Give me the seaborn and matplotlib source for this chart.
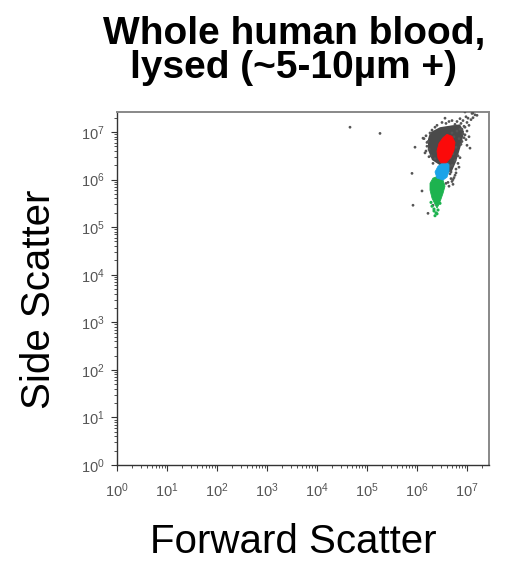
import numpy as np
import pandas as pd
import matplotlib
matplotlib.use("Agg")
import matplotlib.pyplot as plt
import seaborn as sns

sns.set_theme(style="white")
plt.rcParams["font.family"] = ["Liberation Sans", "DejaVu Sans"]
plt.rcParams["mathtext.fontset"] = "custom"
plt.rcParams["mathtext.rm"] = "Liberation Sans"
plt.rcParams["mathtext.it"] = "Liberation Sans"
plt.rcParams["text.color"] = "black"

# Gate outlines, in log10 units (forward scatter, side scatter)
gran_x = [6.60, 6.70, 6.76, 6.74, 6.68, 6.58, 6.48, 6.42, 6.40, 6.44, 6.52]
gran_y = [6.95, 6.91, 6.78, 6.62, 6.47, 6.35, 6.35, 6.45, 6.60, 6.76, 6.88]
mono_x = [6.42, 6.54, 6.64, 6.64, 6.60, 6.52, 6.40, 6.36]
mono_y = [6.28, 6.37, 6.32, 6.18, 6.05, 5.99, 6.03, 6.16]
lymph_x = [6.32, 6.42, 6.52, 6.56, 6.52, 6.48, 6.44, 6.40, 6.36, 6.30, 6.26, 6.26]
lymph_y = [6.03, 6.07, 5.99, 5.86, 5.71, 5.59, 5.48, 5.40, 5.48, 5.61, 5.78, 5.92]
core_x = [6.26, 6.46, 6.70, 6.86, 6.94, 6.90, 6.84, 6.78, 6.70, 6.60, 6.46, 6.30, 6.22, 6.22]
core_y = [6.99, 7.10, 7.14, 7.16, 7.01, 6.79, 6.58, 6.37, 6.18, 6.14, 6.30, 6.41, 6.62, 6.85]

# Ungated events, log10 units
evt_x = [4.66, 5.26, 5.96, 6.12, 5.90, 6.10, 5.92, 6.22, 6.56, 6.96, 7.10, 7.20, 7.02,
         7.06, 6.82, 6.76, 6.32, 7.00, 7.08, 6.98, 7.12, 6.92, 6.88, 6.96, 7.04, 6.86,
         6.80, 6.92, 6.74, 6.70, 6.84, 6.88, 6.78, 6.72, 6.66, 6.62, 6.20, 6.18, 6.16,
         6.22, 6.26, 6.30, 6.24, 6.36, 6.40, 6.50, 6.58, 6.64, 6.70, 6.76, 6.80, 6.94,
         6.90, 6.86, 6.84, 6.78, 7.16, 7.12, 7.00, 6.68, 6.62, 6.56, 6.60, 6.66, 6.72,
         6.70, 6.74, 6.78, 6.68, 6.72, 6.66, 6.76, 6.70, 6.64, 6.58, 6.18, 6.20, 6.14,
         6.24, 6.28, 6.96, 7.00, 6.94, 7.04, 6.90, 6.98, 6.86, 6.82, 6.32, 6.36]
evt_y = [7.10, 6.97, 6.68, 6.87, 6.13, 5.76, 5.46, 5.29, 7.29, 7.42, 7.39, 7.35, 7.29,
         6.66, 6.34, 6.09, 5.46, 7.20, 7.26, 7.32, 7.30, 7.24, 7.18, 7.10, 7.14, 7.06,
         7.02, 6.96, 6.90, 6.98, 6.86, 6.74, 6.68, 6.54, 6.46, 6.34, 6.70, 6.92, 6.56,
         6.80, 6.98, 7.04, 6.48, 7.10, 7.14, 7.20, 7.18, 7.22, 7.24, 7.16, 7.22, 6.88,
         6.80, 6.46, 6.26, 6.14, 7.36, 7.40, 6.72, 6.02, 5.94, 6.08, 6.20, 6.12, 6.00,
         5.96, 6.04, 6.22, 6.16, 5.90, 6.28, 6.40, 6.30, 5.86, 5.92, 6.60, 6.78, 6.86,
         6.64, 6.50, 6.94, 7.02, 7.12, 6.90, 7.06, 6.84, 7.28, 6.50, 6.34, 6.44]
lymph_evt_x = [6.34, 6.38, 6.42, 6.30, 6.36, 6.28, 6.46, 6.34, 6.40]
lymph_evt_y = [5.34, 5.30, 5.36, 5.44, 5.24, 5.52, 5.50, 5.38, 5.28]

x_ticks = [0, 1, 2, 3, 4, 5, 6, 7]
x_max = 7.44
y_max = 7.42

fig = plt.figure(figsize=(5.12, 5.63), dpi=100)
ax = fig.add_axes([117 / 512, 98 / 563, 372 / 512, 353 / 563])


def pw(v):
    return [10 ** a for a in v]


ax.fill(pw(core_x), pw(core_y), color="#4a4a4a", lw=0, zorder=2)
events = pd.DataFrame({"fsc": pw(evt_x), "ssc": pw(evt_y)})
sns.scatterplot(data=events, x="fsc", y="ssc", ax=ax, s=4, color="#555555",
                edgecolor="none", zorder=3)
ly = pd.DataFrame({"fsc": pw(lymph_evt_x), "ssc": pw(lymph_evt_y)})
sns.scatterplot(data=ly, x="fsc", y="ssc", ax=ax, s=5, color="#1db34f",
                edgecolor="none", zorder=4)
ax.fill(pw(lymph_x), pw(lymph_y), color="#1db34f", lw=0.6, ec="#1db34f", zorder=4)
ax.fill(pw(mono_x), pw(mono_y), color="#1aa3e8", lw=0.6, ec="#1aa3e8", zorder=4)
ax.fill(pw(gran_x), pw(gran_y), color="#fb0a0a", lw=0.6, ec="#fb0a0a", zorder=5)

ax.set_xscale("log")
ax.set_yscale("log")
ax.set_xlim(1, 10 ** x_max)
ax.set_ylim(1, 10 ** y_max)
ax.set_xticks([10 ** t for t in x_ticks])
ax.set_yticks([10 ** t for t in x_ticks])
ax.xaxis.set_major_formatter(matplotlib.ticker.LogFormatterSciNotation())
ax.yaxis.set_major_formatter(matplotlib.ticker.LogFormatterSciNotation())
ax.xaxis.set_minor_locator(matplotlib.ticker.LogLocator(base=10, subs=np.arange(2, 10), numticks=20))
ax.yaxis.set_minor_locator(matplotlib.ticker.LogLocator(base=10, subs=np.arange(2, 10), numticks=20))
ax.xaxis.set_minor_formatter(matplotlib.ticker.NullFormatter())
ax.yaxis.set_minor_formatter(matplotlib.ticker.NullFormatter())

ax.tick_params(which="major", direction="out", length=4, width=0.8, color="#333333",
               labelsize=10.5, labelcolor="#555555", bottom=True, left=True)
ax.tick_params(axis="x", which="major", pad=8)
ax.tick_params(axis="y", which="major", pad=5)
ax.tick_params(which="minor", direction="out", length=2, width=0.6, color="#333333",
               bottom=True, left=True)
for side in ("left", "bottom"):
    ax.spines[side].set_color("#333333")
    ax.spines[side].set_linewidth(1.0)
for side in ("top", "right"):
    ax.spines[side].set_color("#888888")
    ax.spines[side].set_linewidth(1.4)

ax.set_xlabel("Forward Scatter", fontsize=29, color="black", va="center")
ax.xaxis.set_label_coords((293 - 117) / 372, (465 - 542) / 353)
ax.set_ylabel("Side Scatter", fontsize=29, color="black", va="center")
ax.yaxis.set_label_coords((39 - 117) / 372, (465 - 299) / 353)
fig.text(294 / 512, 1 - 51 / 563, "Whole human blood,\nlysed (~5-10µm +)",
         ha="center", va="center", fontsize=28, fontweight="bold", linespacing=0.95)

fig.savefig("out.png", dpi=100)
